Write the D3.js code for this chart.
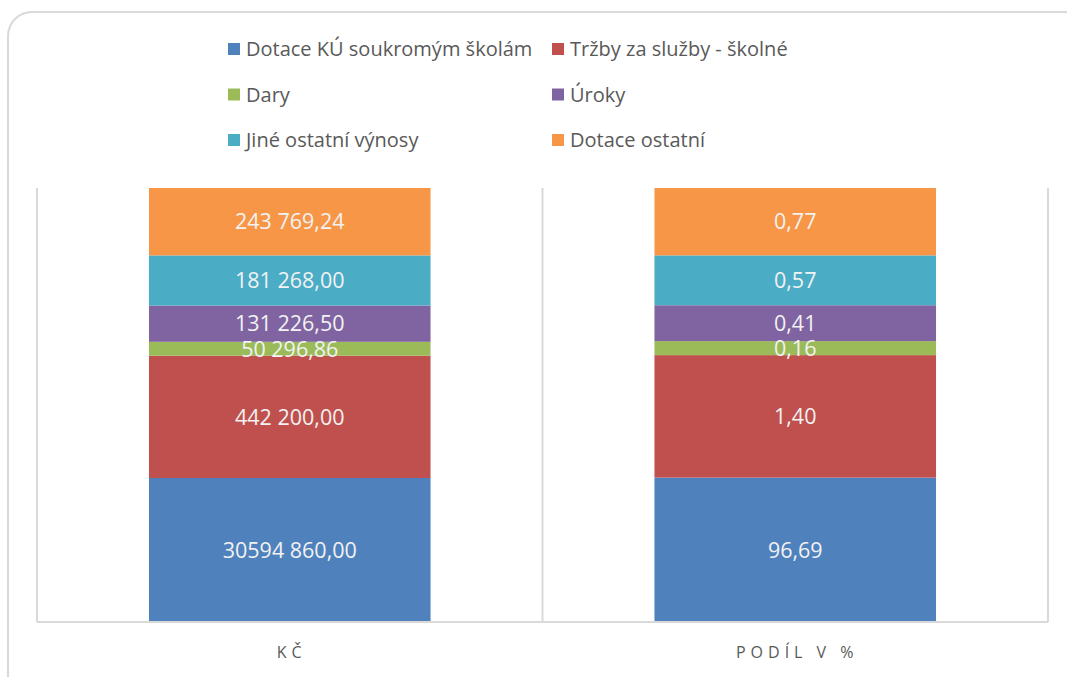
<!DOCTYPE html>
<html>
<head>
<meta charset="utf-8">
<script src="https://cdn.jsdelivr.net/npm/d3@7"></script>
<style>
  body { margin: 0; background: #fff; }
  text { font-family: "Open Sans", Lato, sans-serif; }
</style>
</head>
<body>
<div id="chart"></div>
<script>
// data
const seriesNames = ['Dotace KÚ soukromým školám', 'Tržby za služby - školné', 'Dary', 'Úroky', 'Jiné ostatní výnosy', 'Dotace ostatní'];
const seriesColors = ['#4f81bd', '#c0504d', '#9bbb59', '#8064a2', '#4bacc6', '#f79646'];
const categories = ['KČ', 'PODÍL V %'];
const kcValues = [30594860.00, 442200.00, 50296.86, 131226.50, 181268.00, 243769.24];
const pctValues = [96.69, 1.40, 0.16, 0.41, 0.57, 0.77];
const axisMin = 0.9504; // hidden axis does not start at zero

const W = 1067, H = 677;
const margin = {top: 188, right: 19, bottom: 55, left: 37};
const plotW = W - margin.left - margin.right, plotH = H - margin.top - margin.bottom;

const czLocale = d3.formatLocale({decimal: ',', thousands: ' ', grouping: [3, 5], currency: ['', '']});
const fmt = czLocale.format(',.2f');

let svg = d3.select('#chart').append('svg')
  .attr('width', W).attr('height', H);

// outer frame
svg.append('rect')
  .attr('x', 8).attr('y', 12).attr('width', 1080).attr('height', 690)
  .attr('rx', 24).attr('fill', 'none').attr('stroke', '#d9d9d9').attr('stroke-width', 2);

let g = svg.append('g').attr('transform', 'translate(' + margin.left + ',' + margin.top + ')');

let x = d3.scaleBand().domain(categories).range([0, plotW]).paddingInner(0).paddingOuter(0);
let y = d3.scaleLinear().domain([axisMin, 1]).range([plotH, 0]);

// category separators
let seps = [0].concat(categories.map(c => x(c) + x.bandwidth()));
g.selectAll('line.sep').data(seps).enter().append('line')
  .attr('class', 'sep')
  .attr('x1', d => d).attr('x2', d => d)
  .attr('y1', 0).attr('y2', plotH)
  .attr('stroke', '#d9d9d9').attr('stroke-width', 2);

// stack each column to 100 %
let columns = [
  {cat: categories[0], values: kcValues, labels: kcValues.map(v => fmt(v))},
  {cat: categories[1], values: pctValues, labels: pctValues.map(v => czLocale.format('.2f')(v))}
];
let barW = x.bandwidth() * 0.557;
let segs = [];
columns.forEach(col => {
  let total = d3.sum(col.values);
  let acc = 0;
  col.values.forEach((v, i) => {
    let y0 = acc / total, y1 = (acc + v) / total;
    acc += v;
    segs.push({cat: col.cat, i: i, y0: Math.max(y0, axisMin), y1: y1, label: col.labels[i]});
  });
});

let bx = d => x(d.cat) + (x.bandwidth() - barW) / 2;
g.selectAll('rect.seg').data(segs).enter().append('rect')
  .attr('class', 'seg')
  .attr('x', bx)
  .attr('width', barW)
  .attr('y', d => y(d.y1))
  .attr('height', d => y(d.y0) - y(d.y1))
  .attr('fill', d => seriesColors[d.i]);

g.selectAll('text.lbl').data(segs).enter().append('text')
  .attr('class', 'lbl')
  .attr('x', d => x(d.cat) + x.bandwidth() / 2)
  .attr('y', d => (y(d.y0) + y(d.y1)) / 2)
  .attr('dy', '0.36em')
  .attr('text-anchor', 'middle')
  .attr('font-size', 21.5)
  .attr('fill', '#f2f2f2')
  .text(d => d.label);

// bottom axis line
g.append('line')
  .attr('x1', 0).attr('x2', plotW).attr('y1', plotH).attr('y2', plotH)
  .attr('stroke', '#d9d9d9').attr('stroke-width', 2);

g.selectAll('text.cat').data(categories).enter().append('text')
  .attr('class', 'cat')
  .attr('x', d => x(d) + x.bandwidth() / 2 + 2)
  .attr('y', plotH + 36)
  .attr('text-anchor', 'middle')
  .attr('font-size', 16)
  .attr('letter-spacing', '5px')
  .attr('fill', '#595959')
  .text(d => d);

// legend, two columns
let legend = svg.append('g');
let item = legend.selectAll('g').data(seriesNames).enter().append('g')
  .attr('transform', (d, i) => 'translate(' + (i % 2 === 0 ? 228 : 552) + ',' + (49 + Math.floor(i / 2) * 45.5) + ')');
item.append('rect')
  .attr('x', 0).attr('y', -6).attr('width', 12).attr('height', 12)
  .attr('fill', (d, i) => seriesColors[i]);
item.append('text')
  .attr('x', 18).attr('dy', '0.36em')
  .attr('font-size', 20)
  .attr('fill', '#595959')
  .text(d => d);
</script>
</body>
</html>
